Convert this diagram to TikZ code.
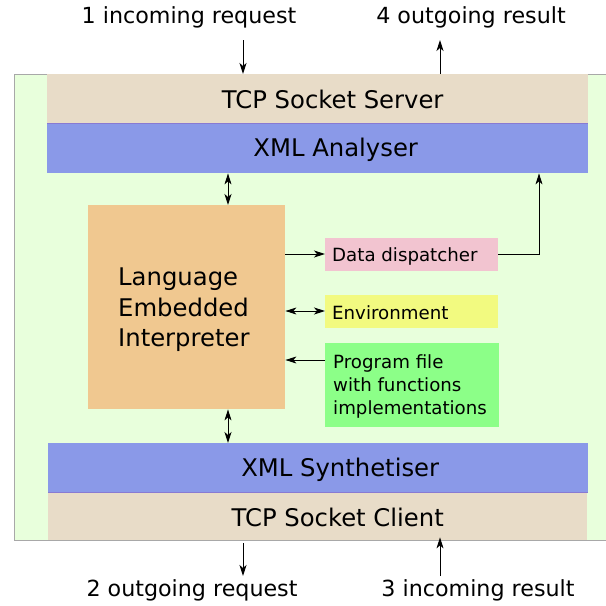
\documentclass[tikz,border=0pt]{standalone}
\usepackage{fontspec}
\setmainfont{DejaVu Sans}
\usetikzlibrary{arrows.meta}
\definecolor{outerg}{HTML}{E8FFDC}
\definecolor{frameg}{HTML}{A8A8A8}
\definecolor{tan}{HTML}{E8DCC8}
\definecolor{xmlblue}{HTML}{8A99E8}
\definecolor{orng}{HTML}{F0C890}
\definecolor{pnk}{HTML}{F2C4D0}
\definecolor{yel}{HTML}{F2FA80}
\definecolor{grn}{HTML}{8CFF88}
\tikzset{
  blk/.style={rectangle, inner sep=0pt, anchor=north west, draw=none},
  bigtxt/.style={font=\fontsize{24.3}{30.5}\selectfont},
  outtxt/.style={font=\fontsize{22.2}{26}\selectfont},
  smalltxt/.style={font=\fontsize{18.2}{23}\selectfont},
  arr/.style={-{Stealth[length=11pt,width=7pt,inset=3pt]}, line width=1pt},
  darr/.style={{Stealth[length=11pt,width=7pt,inset=3pt]}-{Stealth[length=11pt,width=7pt,inset=3pt]}, line width=1pt}
}
\begin{document}
\begin{tikzpicture}[x=1pt,y=-1pt]
\useasboundingbox (0,0) rectangle (606,606);
% outer frame
\fill[outerg] (14,74) rectangle (610,540);
\draw[frameg, line width=1pt] (610,74) -- (14,74) -- (14,540) -- (610,540);
% layers
\node[blk, fill=tan, minimum width=541pt, minimum height=49pt,
  label={[bigtxt, xshift=15pt, yshift=-1pt]center:TCP Socket Server}] (srv) at (47,74) {};
\node[blk, fill=xmlblue, minimum width=541pt, minimum height=50pt,
  label={[bigtxt, xshift=18pt, yshift=-2pt]center:XML Analyser}] (ana) at (47,123) {};
\draw[xmlblue!80!violet, line width=1pt] (srv.south west) -- (srv.south east);
\node[blk, fill=xmlblue, minimum width=540pt, minimum height=49pt,
  label={[bigtxt, xshift=22pt, yshift=-2pt]center:XML Synthetiser}] (syn) at (48,443) {};
\node[blk, fill=tan, minimum width=539pt, minimum height=48pt,
  label={[bigtxt, xshift=20pt, yshift=-1pt]center:TCP Socket Client}] (cli) at (48,492) {};
\draw[xmlblue!80!violet, line width=1pt] (syn.south west) -- (syn.south east);
% interpreter
\node[blk, fill=orng, minimum width=197pt, minimum height=204pt] (lei) at (88,205) {};
\node[bigtxt, align=left, anchor=west, inner sep=0pt] (leit) at (118,310)
  {Language\\Embedded\\Interpreter};
% side boxes
\node[blk, fill=pnk, minimum width=173pt, minimum height=33pt] (dis) at (325,238) {};
\node[smalltxt, anchor=west, inner sep=0pt] (dist) at (332,256.5) {Data dispatcher};
\node[blk, fill=yel, minimum width=173pt, minimum height=33pt] (env) at (325,295) {};
\node[smalltxt, anchor=west, inner sep=0pt] (envt) at (332,312.5) {Environment};
\node[blk, fill=grn, minimum width=174pt, minimum height=84pt] (prg) at (325,343) {};
\node[smalltxt, anchor=west, align=left, inner sep=0pt] (prgt) at (333,386)
  {Program file\\with functions\\implementations};
% connectors
\draw[darr] (ana.south -| 228,0) -- (lei.north -| 228,0);
\draw[darr] (lei.south -| 228,0) -- (syn.north -| 228,0);
\draw[arr] (lei.east |- 0,254) -- (dis.west |- 0,254);
\draw[darr] (lei.east |- 0,311) -- (env.west |- 0,311);
\draw[arr] (prg.west |- 0,360) -- (lei.east |- 0,360);
\draw[arr] (dis.east |- 0,254) -- (539,254) -- (ana.south -| 539,0);
% outside labels
\node[outtxt, inner sep=0pt] (l1) at (189,17) {1 incoming request};
\node[outtxt, inner sep=0pt] (l4) at (471,17) {4 outgoing result};
\node[outtxt, inner sep=0pt] (l2) at (192,590) {2 outgoing request};
\node[outtxt, inner sep=0pt] (l3) at (478,590) {3 incoming result};
\coordinate (t1) at (243,40);
\coordinate (t4) at (440,40);
\coordinate (b2) at (243,576);
\coordinate (b3) at (440,576);
\draw[arr] (t1) -- (srv.north -| t1);
\draw[arr] (srv.north -| t4) -- (t4);
\draw[arr] (cli.south -| b2) ++(0,3) -- (b2);
\draw[arr] (b3) -- ([yshift=3pt]cli.south -| b3);
\end{tikzpicture}
\end{document}
